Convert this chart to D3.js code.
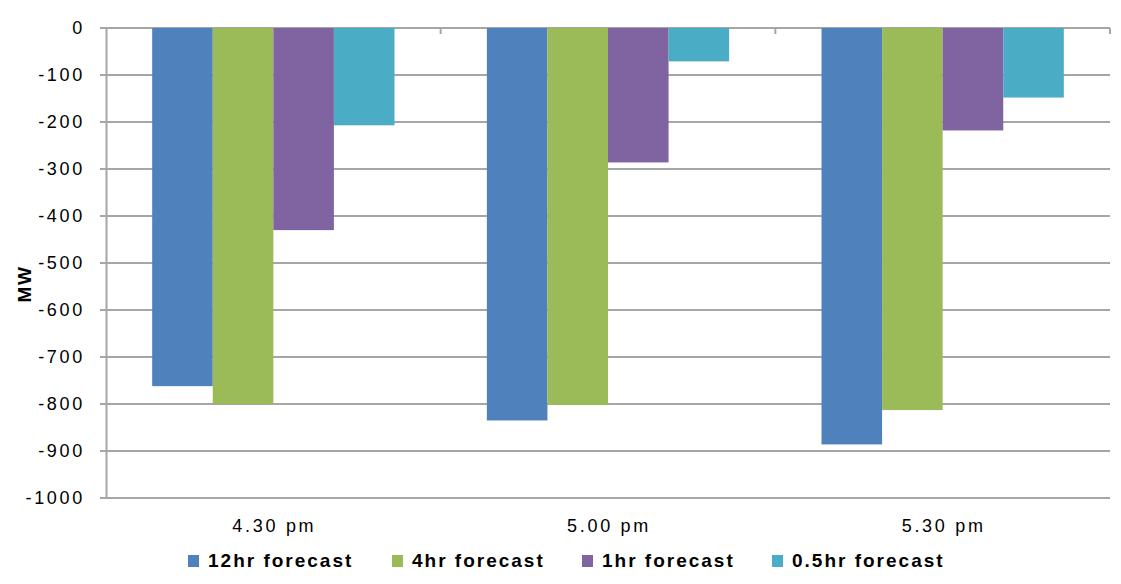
<!DOCTYPE html>
<html><head><meta charset="utf-8">
<script src="https://cdn.jsdelivr.net/npm/d3@7"></script>
<style>body{margin:0;background:#fff}svg{display:block}</style>
</head><body>
<script>
const categories = ["4.30 pm","5.00 pm","5.30 pm"];
const seriesNames = ["12hr forecast","4hr forecast","1hr forecast","0.5hr forecast"];
const s12hr = [-762,-835,-886];
const s4hr = [-800,-802,-813];
const s1hr = [-430,-286,-218];
const s05hr = [-207,-71,-148];
const yTicks = [0,-100,-200,-300,-400,-500,-600,-700,-800,-900,-1000];
const colors = ["#4f81bd","#9bbb59","#8064a2","#4bacc6"];
const seriesVals = [s12hr,s4hr,s1hr,s05hr];

(function(){
const W=1121,H=584;
const FONT="Liberation Sans, Arial, sans-serif";
const svg=d3.select("body").append("svg").attr("width",W).attr("height",H);
const pL=106,pR=1110,pT=28,pB=498;
const y=d3.scaleLinear().domain([0,-1000]).range([pT,pB]);
const x0=d3.scaleBand().domain(categories).range([pL,pR]).paddingInner(0.276).paddingOuter(0.138);
const x1=d3.scaleBand().domain(seriesNames).range([0,x0.bandwidth()]).padding(0);

svg.append("g").selectAll("line").data(yTicks).join("line")
  .attr("x1",pL-6).attr("x2",pR).attr("y1",d=>y(d)).attr("y2",d=>y(d))
  .attr("stroke","#a6a6a6").attr("stroke-width",2);

const ya=svg.append("g").attr("transform",`translate(${pL},0)`)
  .call(d3.axisLeft(y).tickValues(yTicks).tickSize(0).tickPadding(21).tickFormat(d=>String(d)));
ya.select(".domain").attr("stroke","#a6a6a6").attr("stroke-width",2);
ya.selectAll("text").attr("font-family",FONT).attr("font-size",18).attr("letter-spacing",2.7).attr("fill","#000");

const groups=svg.append("g").selectAll("g").data(categories).join("g")
  .attr("transform",c=>`translate(${x0(c)},0)`);
groups.selectAll("rect").data((c,i)=>seriesNames.map((s,j)=>({s,j,v:seriesVals[j][i]}))).join("rect")
  .attr("x",d=>x1(d.s)).attr("width",x1.bandwidth())
  .attr("y",y(0)).attr("height",d=>y(d.v)-y(0))
  .attr("fill",d=>colors[d.j]);

const bounds=[pL+(pR-pL)/3,pL+2*(pR-pL)/3,pR];
svg.append("g").selectAll("line").data(bounds).join("line")
  .attr("x1",d=>d).attr("x2",d=>d).attr("y1",pT).attr("y2",pT+6)
  .attr("stroke","#a6a6a6").attr("stroke-width",2);

svg.append("g").selectAll("text").data(categories).join("text")
  .attr("x",c=>x0(c)+x0.bandwidth()/2+1).attr("y",532)
  .attr("text-anchor","middle").attr("font-family",FONT).attr("letter-spacing",2.7)
  .attr("font-size",18).text(d=>d);

svg.append("text").attr("transform","translate(31,284) rotate(-90)")
  .attr("text-anchor","middle").attr("font-family",FONT).attr("letter-spacing",1.5)
  .attr("font-weight","bold").attr("font-size",19).text("MW");

const legX=[188,392,582,772];
const leg=svg.append("g").selectAll("g").data(seriesNames).join("g")
  .attr("transform",(d,i)=>`translate(${legX[i]},567)`);
leg.append("rect").attr("x",0).attr("y",-12).attr("width",11).attr("height",12).attr("fill",(d,i)=>colors[i]);
leg.append("text").attr("x",20).attr("y",0).attr("font-family",FONT).attr("letter-spacing",2)
  .attr("font-weight","bold").attr("font-size",19).text(d=>d);
})();
</script>
</body></html>
